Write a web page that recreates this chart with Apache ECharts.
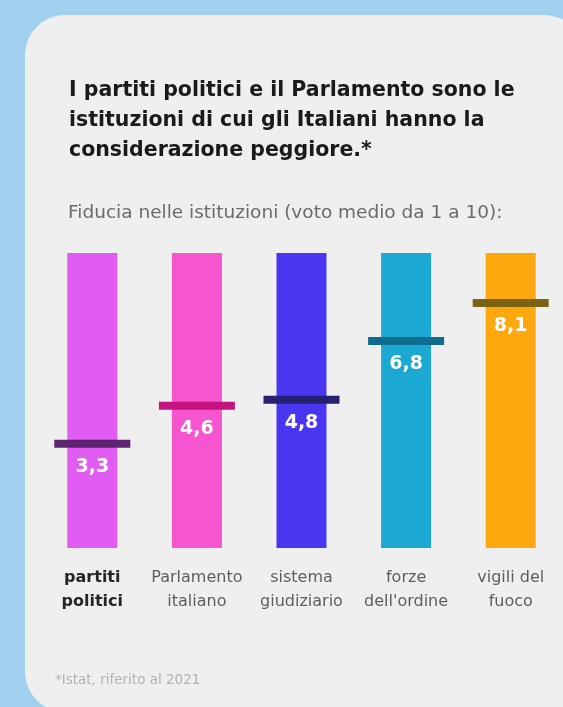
<!DOCTYPE html>
<html>
<head>
<meta charset="utf-8">
<script src="https://cdn.jsdelivr.net/npm/echarts@6/dist/echarts.min.js"></script>
<style>
  html, body { margin: 0; padding: 0; background: #A1CFEE; }
  #chart { width: 563px; height: 707px; }
</style>
</head>
<body>
<div id="chart"></div>
<script>
// Institutions (two-line labels) and their average trust score, 1–10
const categories = [
  'partiti\npolitici',
  'Parlamento\nitaliano',
  'sistema\ngiudiziario',
  "forze\ndell'ordine",
  'vigili del\nfuoco'
];
const trustScores = [3.3, 4.6, 4.8, 6.8, 8.1];

const titleLines = [
  'I partiti politici e il Parlamento sono le',
  'istituzioni di cui gli Italiani hanno la',
  'considerazione peggiore.*'
];
const subtitleText = 'Fiducia nelle istituzioni (voto medio da 1 a 10):';
const footnoteText = '*Istat, riferito al 2021';

// Column fill and the darker tone of its score marker
const barColors = ['#E05CF2', '#F655CF', '#4936F0', '#1BA8D2', '#FCA80E'];
const markerColors = ['#5E2370', '#C5137F', '#25206F', '#0F6C8E', '#7B6314'];
const emphasisIndex = 0;

const FONT = '"DejaVu Sans", sans-serif';
const fmt = v => String(v).replace('.', ',');

const chart = echarts.init(document.getElementById('chart'), null, { renderer: 'canvas' });

chart.setOption({
  backgroundColor: '#A1CFEE',
  animation: false,
  graphic: [{
    type: 'rect',
    z: 0,
    shape: { x: 25, y: 15, width: 559, height: 697, r: 40 },
    style: { fill: '#EFEFEF' }
  }],
  title: [
    {
      text: titleLines.join('\n'),
      left: 69, top: 76, padding: 0,
      textStyle: { fontFamily: FONT, fontWeight: 'bold', fontSize: 20.5, lineHeight: 30, color: '#1A1A1A' }
    },
    {
      text: subtitleText,
      left: 68, top: 202, padding: 0,
      textStyle: { fontFamily: FONT, fontWeight: 'normal', fontSize: 18.5, lineHeight: 22, color: '#6B6B6B' }
    },
    {
      text: footnoteText,
      left: 55, top: 672, padding: 0,
      textStyle: { fontFamily: FONT, fontWeight: 'normal', fontSize: 13.5, lineHeight: 16, color: '#B3B3B3' }
    }
  ],
  grid: { left: 40, top: 253, width: 531, height: 295 },
  xAxis: {
    type: 'category',
    data: categories,
    axisLine: { show: false },
    axisTick: { show: false },
    splitLine: { show: false },
    axisLabel: {
      interval: 0,
      margin: 18,
      fontFamily: FONT,
      fontSize: 16,
      lineHeight: 24,
      color: '#5E5E5E',
      formatter: (value, idx) => idx === emphasisIndex
        ? value.split('\n').map(s => '{b|' + s + '}').join('\n')
        : value,
      rich: {
        b: { fontFamily: FONT, fontSize: 16, lineHeight: 24, fontWeight: 'bold', color: '#262626' }
      }
    }
  },
  yAxis: {
    type: 'value',
    min: -0.25,
    max: 9.8,
    show: false,
    splitLine: { show: false }
  },
  series: [{
    type: 'custom',
    data: trustScores.map((v, i) => [i, v]),
    encode: { x: 0, y: 1 },
    renderItem: (params, api) => {
      const i = api.value(0);
      const v = api.value(1);
      const cs = params.coordSys;
      const [cx, my] = api.coord([i, v]);
      const barW = 50, markW = 76, markH = 8;
      return {
        type: 'group',
        children: [
          {
            type: 'rect',
            shape: { x: cx - barW / 2, y: cs.y, width: barW, height: cs.height },
            style: { fill: barColors[i] }
          },
          {
            type: 'rect',
            shape: { x: cx - markW / 2, y: my - markH / 2, width: markW, height: markH },
            style: { fill: markerColors[i] }
          },
          {
            type: 'text',
            x: cx, y: my + 23,
            style: {
              text: fmt(v),
              align: 'center',
              verticalAlign: 'middle',
              fill: '#FFFFFF',
              font: 'bold 19px ' + FONT
            }
          }
        ]
      };
    }
  }]
});
</script>
</body>
</html>
